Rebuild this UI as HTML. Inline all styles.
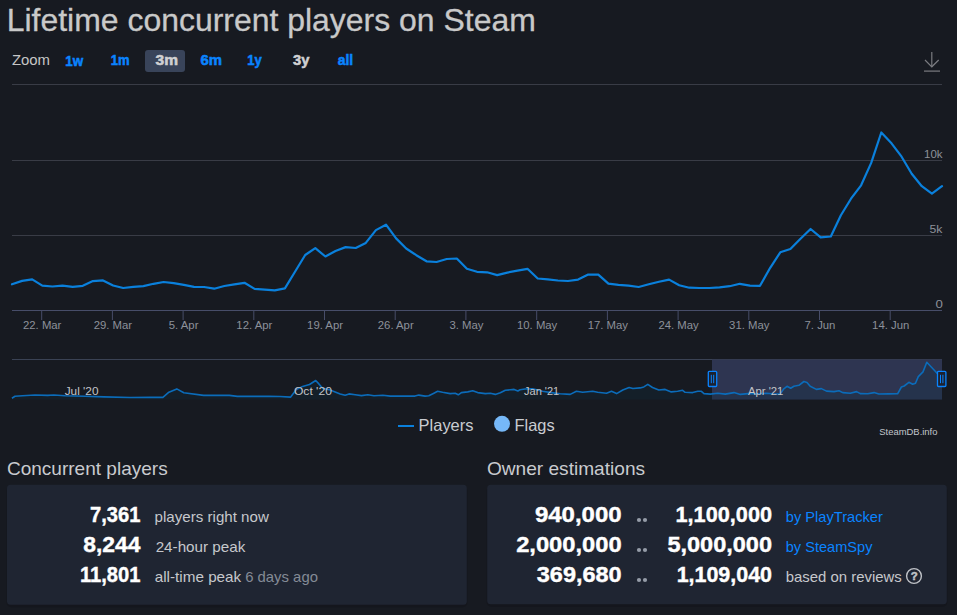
<!DOCTYPE html>
<html><head><meta charset="utf-8">
<style>
html,body{margin:0;padding:0;}
body{width:957px;height:615px;overflow:hidden;background:#171a21;position:relative;font-family:"Liberation Sans",sans-serif;}
svg{position:absolute;left:0;top:0;}
svg text{font-family:"Liberation Sans",sans-serif;white-space:pre;}
</style></head>
<body>
<svg width="957" height="615" viewBox="0 0 957 615">
  <!-- zoom selected -->
  <rect x="145" y="50" width="40" height="22" rx="3" fill="#39445a"/>
  <!-- download icon -->
  <g stroke="#7a7b80" stroke-width="1.2" fill="none">
    <line x1="931.8" y1="52" x2="931.8" y2="67"/>
    <polyline points="925,60 931.8,66.8 938.7,60"/>
    <line x1="924" y1="71.1" x2="940" y2="71.1"/>
  </g>
  <!-- grid -->
  <g stroke="#393c46" stroke-width="1">
    <line x1="12" y1="84.5" x2="942" y2="84.5"/>
    <line x1="12" y1="160.5" x2="942" y2="160.5"/>
    <line x1="12" y1="235.5" x2="942" y2="235.5"/>
  </g>
  <line x1="12" y1="310.5" x2="942" y2="310.5" stroke="#474d69" stroke-width="1"/>
  <line x1="41.7" y1="310" x2="41.7" y2="320" stroke="#474d69" stroke-width="1"/><text x="22.99" y="328.8" font-size="11" fill="#8d919a" textLength="38.41" lengthAdjust="spacingAndGlyphs">22. Mar</text><line x1="112.4" y1="310" x2="112.4" y2="320" stroke="#474d69" stroke-width="1"/><text x="93.70" y="328.8" font-size="11" fill="#8d919a" textLength="38.41" lengthAdjust="spacingAndGlyphs">29. Mar</text><line x1="183.1" y1="310" x2="183.1" y2="320" stroke="#474d69" stroke-width="1"/><text x="168.82" y="328.8" font-size="11" fill="#8d919a" textLength="29.60" lengthAdjust="spacingAndGlyphs">5. Apr</text><line x1="253.8" y1="310" x2="253.8" y2="320" stroke="#474d69" stroke-width="1"/><text x="236.37" y="328.8" font-size="11" fill="#8d919a" textLength="35.90" lengthAdjust="spacingAndGlyphs">12. Apr</text><line x1="324.5" y1="310" x2="324.5" y2="320" stroke="#474d69" stroke-width="1"/><text x="307.08" y="328.8" font-size="11" fill="#8d919a" textLength="35.90" lengthAdjust="spacingAndGlyphs">19. Apr</text><line x1="395.2" y1="310" x2="395.2" y2="320" stroke="#474d69" stroke-width="1"/><text x="377.79" y="328.8" font-size="11" fill="#8d919a" textLength="35.90" lengthAdjust="spacingAndGlyphs">26. Apr</text><line x1="465.9" y1="310" x2="465.9" y2="320" stroke="#474d69" stroke-width="1"/><text x="449.45" y="328.8" font-size="11" fill="#8d919a" textLength="34.00" lengthAdjust="spacingAndGlyphs">3. May</text><line x1="536.7" y1="310" x2="536.7" y2="320" stroke="#474d69" stroke-width="1"/><text x="517.01" y="328.8" font-size="11" fill="#8d919a" textLength="40.30" lengthAdjust="spacingAndGlyphs">10. May</text><line x1="607.4" y1="310" x2="607.4" y2="320" stroke="#474d69" stroke-width="1"/><text x="587.72" y="328.8" font-size="11" fill="#8d919a" textLength="40.30" lengthAdjust="spacingAndGlyphs">17. May</text><line x1="678.1" y1="310" x2="678.1" y2="320" stroke="#474d69" stroke-width="1"/><text x="658.42" y="328.8" font-size="11" fill="#8d919a" textLength="40.30" lengthAdjust="spacingAndGlyphs">24. May</text><line x1="748.8" y1="310" x2="748.8" y2="320" stroke="#474d69" stroke-width="1"/><text x="729.13" y="328.8" font-size="11" fill="#8d919a" textLength="40.30" lengthAdjust="spacingAndGlyphs">31. May</text><line x1="819.5" y1="310" x2="819.5" y2="320" stroke="#474d69" stroke-width="1"/><text x="804.56" y="328.8" font-size="11" fill="#8d919a" textLength="30.86" lengthAdjust="spacingAndGlyphs">7. Jun</text><line x1="890.2" y1="310" x2="890.2" y2="320" stroke="#474d69" stroke-width="1"/><text x="872.12" y="328.8" font-size="11" fill="#8d919a" textLength="37.17" lengthAdjust="spacingAndGlyphs">14. Jun</text>
  <path d="M12.0,284.3 L22.1,280.9 L32.2,279.4 L42.3,285.6 L52.4,286.5 L62.5,285.6 L72.7,286.8 L82.8,285.8 L92.9,281.1 L103.0,280.4 L113.1,285.5 L123.2,288.0 L133.3,286.8 L143.4,286.1 L153.5,283.8 L163.6,282.0 L173.7,283.2 L183.8,284.8 L194.0,286.9 L204.1,287.0 L214.2,288.7 L224.3,286.0 L234.4,284.3 L244.5,282.8 L254.6,288.9 L264.7,289.7 L274.8,290.4 L284.9,288.4 L295.0,271.8 L305.2,255.0 L315.3,248.1 L325.4,256.5 L335.5,251.0 L345.6,247.1 L355.7,248.0 L365.8,242.9 L375.9,230.1 L386.0,224.7 L396.1,238.4 L406.2,248.5 L416.3,255.2 L426.5,261.3 L436.6,262.0 L446.7,259.0 L456.8,258.5 L466.9,268.8 L477.0,271.8 L487.1,272.3 L497.2,275.1 L507.3,272.6 L517.4,270.6 L527.5,268.8 L537.7,278.5 L547.8,279.3 L557.9,280.5 L568.0,281.0 L578.1,279.6 L588.2,274.6 L598.3,274.6 L608.4,283.6 L618.5,284.8 L628.6,285.7 L638.7,287.0 L648.8,284.3 L659.0,281.8 L669.1,279.6 L679.2,285.2 L689.3,287.7 L699.4,288.0 L709.5,288.0 L719.6,287.3 L729.7,286.2 L739.8,283.8 L749.9,285.7 L760.0,285.8 L770.2,267.8 L780.3,252.3 L790.4,249.0 L800.5,238.7 L810.6,229.0 L820.7,237.4 L830.8,236.5 L840.9,215.3 L851.0,198.7 L861.1,185.3 L871.2,162.9 L881.3,132.5 L891.5,143.3 L901.6,156.7 L911.7,173.7 L921.8,186.2 L931.9,193.7 L942.0,186.2" fill="none" stroke="#0a80dc" stroke-width="2.2" stroke-linejoin="round" stroke-linecap="round"/>

  <!-- navigator -->
  <line x1="12" y1="359.5" x2="942" y2="359.5" stroke="#3a4254" stroke-width="1"/>
  <rect x="712" y="359.5" width="230" height="40" fill="#2e3551"/>
  <path d="M11.9,398.2 L15.0,396.3 L22.5,395.7 L35.0,395.0 L47.6,395.4 L53.9,395.0 L65.2,395.7 L85.2,396.3 L104.0,396.9 L130.0,397.5 L150.0,397.4 L162.9,397.4 L168.9,392.2 L176.8,388.9 L183.8,392.8 L203.6,395.4 L229.4,395.4 L237.4,396.4 L269.1,396.4 L280.0,396.5 L290.7,397.1 L296.3,389.6 L302.6,386.4 L309.5,384.5 L315.7,380.5 L318.9,383.9 L322.6,388.3 L328.9,389.6 L333.9,391.4 L340.2,393.9 L345.2,395.2 L349.0,393.9 L355.2,394.8 L361.5,395.6 L367.8,394.8 L374.0,395.8 L382.8,395.2 L390.3,396.1 L400.0,396.1 L407.5,396.1 L415.0,396.1 L418.8,395.1 L425.1,396.1 L428.8,395.7 L433.9,393.2 L437.6,391.3 L442.6,392.3 L450.2,393.6 L455.2,393.2 L458.3,394.8 L461.4,392.6 L467.7,391.9 L472.7,390.7 L477.7,392.6 L485.3,393.6 L490.3,393.2 L495.3,394.4 L500.3,392.8 L505.3,390.3 L510.3,389.8 L514.1,389.4 L517.9,391.0 L520.0,389.8 L525.0,389.0 L532.5,388.8 L542.6,391.3 L551.3,392.6 L560.1,393.8 L570.2,394.4 L576.4,391.3 L582.7,392.3 L592.7,391.3 L597.7,392.3 L606.5,393.2 L611.5,391.3 L616.6,393.6 L622.8,390.0 L629.1,387.5 L632.9,388.5 L640.0,387.9 L643.8,386.9 L647.8,384.4 L652.5,387.5 L658.8,390.0 L665.1,389.4 L671.3,391.9 L677.6,391.3 L682.6,390.3 L685.1,392.3 L692.7,392.6 L697.7,391.3 L701.4,391.3 L704.0,393.6 L710.2,394.1 L717.7,393.2 L725.3,394.1 L734.0,392.6 L740.3,394.4 L747.8,393.6 L760.0,393.8 L766.3,393.2 L772.5,393.8 L780.1,394.1 L783.8,388.8 L787.0,386.3 L790.7,388.2 L793.9,386.3 L798.9,385.3 L803.9,381.5 L807.0,382.5 L810.2,386.3 L816.4,389.4 L821.4,388.6 L826.5,391.1 L834.0,391.6 L839.0,390.7 L842.8,392.6 L850.3,393.2 L856.6,391.6 L860.3,393.6 L867.8,393.8 L874.1,392.6 L878.8,394.0 L888.2,393.9 L897.6,393.8 L901.4,387.0 L904.2,386.0 L908.9,382.3 L912.7,384.2 L915.5,383.2 L918.3,376.6 L923.0,371.9 L926.8,362.3 L931.5,367.2 L937.1,373.3 L942.0,376.0 L942,399.5 L12,399.5 Z" fill="#0e3040" fill-opacity="0.28" stroke="none"/>
  <path d="M11.9,398.2 L15.0,396.3 L22.5,395.7 L35.0,395.0 L47.6,395.4 L53.9,395.0 L65.2,395.7 L85.2,396.3 L104.0,396.9 L130.0,397.5 L150.0,397.4 L162.9,397.4 L168.9,392.2 L176.8,388.9 L183.8,392.8 L203.6,395.4 L229.4,395.4 L237.4,396.4 L269.1,396.4 L280.0,396.5 L290.7,397.1 L296.3,389.6 L302.6,386.4 L309.5,384.5 L315.7,380.5 L318.9,383.9 L322.6,388.3 L328.9,389.6 L333.9,391.4 L340.2,393.9 L345.2,395.2 L349.0,393.9 L355.2,394.8 L361.5,395.6 L367.8,394.8 L374.0,395.8 L382.8,395.2 L390.3,396.1 L400.0,396.1 L407.5,396.1 L415.0,396.1 L418.8,395.1 L425.1,396.1 L428.8,395.7 L433.9,393.2 L437.6,391.3 L442.6,392.3 L450.2,393.6 L455.2,393.2 L458.3,394.8 L461.4,392.6 L467.7,391.9 L472.7,390.7 L477.7,392.6 L485.3,393.6 L490.3,393.2 L495.3,394.4 L500.3,392.8 L505.3,390.3 L510.3,389.8 L514.1,389.4 L517.9,391.0 L520.0,389.8 L525.0,389.0 L532.5,388.8 L542.6,391.3 L551.3,392.6 L560.1,393.8 L570.2,394.4 L576.4,391.3 L582.7,392.3 L592.7,391.3 L597.7,392.3 L606.5,393.2 L611.5,391.3 L616.6,393.6 L622.8,390.0 L629.1,387.5 L632.9,388.5 L640.0,387.9 L643.8,386.9 L647.8,384.4 L652.5,387.5 L658.8,390.0 L665.1,389.4 L671.3,391.9 L677.6,391.3 L682.6,390.3 L685.1,392.3 L692.7,392.6 L697.7,391.3 L701.4,391.3 L704.0,393.6 L710.2,394.1 L717.7,393.2 L725.3,394.1 L734.0,392.6 L740.3,394.4 L747.8,393.6 L760.0,393.8 L766.3,393.2 L772.5,393.8 L780.1,394.1 L783.8,388.8 L787.0,386.3 L790.7,388.2 L793.9,386.3 L798.9,385.3 L803.9,381.5 L807.0,382.5 L810.2,386.3 L816.4,389.4 L821.4,388.6 L826.5,391.1 L834.0,391.6 L839.0,390.7 L842.8,392.6 L850.3,393.2 L856.6,391.6 L860.3,393.6 L867.8,393.8 L874.1,392.6 L878.8,394.0 L888.2,393.9 L897.6,393.8 L901.4,387.0 L904.2,386.0 L908.9,382.3 L912.7,384.2 L915.5,383.2 L918.3,376.6 L923.0,371.9 L926.8,362.3 L931.5,367.2 L937.1,373.3 L942.0,376.0" fill="none" stroke="#0b6cba" stroke-width="1.6" stroke-linejoin="round"/>
  <g stroke="#0a84ff" stroke-width="1.3" fill="#1c2230">
    <rect x="708.3" y="371.3" width="8.4" height="15.2" rx="1"/>
    <rect x="937.5" y="371.3" width="8.4" height="15.2" rx="1"/>
  </g>
  <g stroke="#0a84ff" stroke-width="1">
    <line x1="711.3" y1="374.8" x2="711.3" y2="383.2"/><line x1="713.7" y1="374.8" x2="713.7" y2="383.2"/>
    <line x1="940.5" y1="374.8" x2="940.5" y2="383.2"/><line x1="942.9" y1="374.8" x2="942.9" y2="383.2"/>
  </g>
  <!-- legend -->
  <line x1="398" y1="426" x2="414" y2="426" stroke="#0a80dc" stroke-width="2"/>
  <circle cx="502" cy="423.8" r="8" fill="#76b8f8"/>

  <!-- panels -->
  <rect x="6.5" y="486" width="461" height="121.5" rx="5" fill="#000" fill-opacity="0.12"/>
  <rect x="486.5" y="486" width="461" height="121" rx="5" fill="#000" fill-opacity="0.12"/>
  <rect x="7" y="484.8" width="459.8" height="120" rx="3.5" fill="#1f2532"/>
  <rect x="487.2" y="484.7" width="459.6" height="119.5" rx="3.5" fill="#1f2532"/>
  <g fill="#959ca8">
    <circle cx="639" cy="520" r="2.1"/><circle cx="645" cy="520" r="2.1"/>
    <circle cx="639" cy="550" r="2.1"/><circle cx="645" cy="550" r="2.1"/>
    <circle cx="639" cy="580" r="2.1"/><circle cx="645" cy="580" r="2.1"/>
  </g>
  <!-- help icon -->
  <circle cx="914" cy="576" r="7.4" fill="none" stroke="#bfc2c7" stroke-width="1.4"/>
  <text x="914.2" y="580.2" text-anchor="middle" font-size="11.5" font-weight="700" fill="#bfc2c7" stroke="#bfc2c7" stroke-width="0.5">?</text>
<text x="6.68" y="31.46" font-size="31.7" font-weight="400" fill="#c9c9c9" stroke="#c9c9c9" stroke-width="0.3" textLength="529.14" lengthAdjust="spacingAndGlyphs">Lifetime concurrent players on Steam</text>
<text x="11.90" y="65.42" font-size="14.8" font-weight="400" fill="#c6c6c6" textLength="38.12" lengthAdjust="spacingAndGlyphs">Zoom</text>
<text x="65.28" y="65.54" font-size="15" font-weight="700" fill="#0a84ff" stroke="#0a84ff" stroke-width="0.55" textLength="17.90" lengthAdjust="spacingAndGlyphs">1w</text>
<text x="110.70" y="65.32" font-size="15" font-weight="700" fill="#0a84ff" stroke="#0a84ff" stroke-width="0.55" textLength="18.80" lengthAdjust="spacingAndGlyphs">1m</text>
<text x="155.56" y="65.32" font-size="15" font-weight="700" fill="#d0d0d2" stroke="#d0d0d2" stroke-width="0.55" textLength="22.46" lengthAdjust="spacingAndGlyphs">3m</text>
<text x="200.56" y="65.32" font-size="15" font-weight="700" fill="#0a84ff" stroke="#0a84ff" stroke-width="0.55" textLength="21.56" lengthAdjust="spacingAndGlyphs">6m</text>
<text x="247.28" y="65.32" font-size="15" font-weight="700" fill="#0a84ff" stroke="#0a84ff" stroke-width="0.55" textLength="14.56" lengthAdjust="spacingAndGlyphs">1y</text>
<text x="292.94" y="65.32" font-size="15" font-weight="700" fill="#d0d0d2" stroke="#d0d0d2" stroke-width="0.55" textLength="16.38" lengthAdjust="spacingAndGlyphs">3y</text>
<text x="337.70" y="65.48" font-size="15" font-weight="700" fill="#0a84ff" stroke="#0a84ff" stroke-width="0.55" textLength="15.46" lengthAdjust="spacingAndGlyphs">all</text>
<text x="924.00" y="157.82" font-size="11.5" font-weight="400" fill="#8d9199" textLength="18.50" lengthAdjust="spacingAndGlyphs">10k</text>
<text x="929.42" y="233.46" font-size="11.5" font-weight="400" fill="#8d9199" textLength="12.94" lengthAdjust="spacingAndGlyphs">5k</text>
<text x="935.46" y="307.84" font-size="11.5" font-weight="400" fill="#8d9199" textLength="7.38" lengthAdjust="spacingAndGlyphs">0</text>
<text x="64.68" y="395.18" font-size="11" font-weight="400" fill="#c2c4c8" textLength="33.80" lengthAdjust="spacingAndGlyphs">Jul &#39;20</text>
<text x="293.90" y="395.10" font-size="11" font-weight="400" fill="#c2c4c8" textLength="38.04" lengthAdjust="spacingAndGlyphs">Oct &#39;20</text>
<text x="524.02" y="395.20" font-size="11" font-weight="400" fill="#c2c4c8" textLength="35.24" lengthAdjust="spacingAndGlyphs">Jan &#39;21</text>
<text x="747.90" y="394.60" font-size="11" font-weight="400" fill="#c2c4c8" textLength="35.48" lengthAdjust="spacingAndGlyphs">Apr &#39;21</text>
<text x="418.62" y="431.02" font-size="16.5" font-weight="400" fill="#c9ccd1" textLength="54.88" lengthAdjust="spacingAndGlyphs">Players</text>
<text x="514.48" y="431.02" font-size="16.5" font-weight="400" fill="#c9ccd1" textLength="40.12" lengthAdjust="spacingAndGlyphs">Flags</text>
<text x="879.28" y="434.80" font-size="9.7" font-weight="400" fill="#c2c6cc" textLength="58.22" lengthAdjust="spacingAndGlyphs">SteamDB.info</text>
<text x="6.90" y="475.32" font-size="19" font-weight="400" fill="#c9cbcf" textLength="160.84" lengthAdjust="spacingAndGlyphs">Concurrent players</text>
<text x="486.90" y="475.40" font-size="19" font-weight="400" fill="#c9cbcf" textLength="158.22" lengthAdjust="spacingAndGlyphs">Owner estimations</text>
<text x="90.04" y="521.60" font-size="21.5" font-weight="700" fill="#ffffff" stroke="#ffffff" stroke-width="0.4" textLength="50.42" lengthAdjust="spacingAndGlyphs">7,361</text>
<text x="83.28" y="551.60" font-size="21.5" font-weight="700" fill="#ffffff" stroke="#ffffff" stroke-width="0.4" textLength="57.18" lengthAdjust="spacingAndGlyphs">8,244</text>
<text x="80.00" y="581.60" font-size="21.5" font-weight="700" fill="#ffffff" stroke="#ffffff" stroke-width="0.4" textLength="60.46" lengthAdjust="spacingAndGlyphs">11,801</text>
<text x="154.62" y="522.00" font-size="15" font-weight="400" fill="#c6c8cc" textLength="114.22" lengthAdjust="spacingAndGlyphs">players right now</text>
<text x="155.66" y="552.00" font-size="15" font-weight="400" fill="#c6c8cc" textLength="89.70" lengthAdjust="spacingAndGlyphs">24-hour peak</text>
<text x="154.76" y="582.00" font-size="15" font-weight="400" fill="#c6c8cc" textLength="86.46" lengthAdjust="spacingAndGlyphs">all-time peak</text>
<text x="245.14" y="582.00" font-size="15" font-weight="400" fill="#848b96" textLength="72.84" lengthAdjust="spacingAndGlyphs">6 days ago</text>
<text x="534.90" y="521.60" font-size="21.5" font-weight="700" fill="#ffffff" stroke="#ffffff" stroke-width="0.4" textLength="86.74" lengthAdjust="spacingAndGlyphs">940,000</text>
<text x="516.18" y="551.60" font-size="21.5" font-weight="700" fill="#ffffff" stroke="#ffffff" stroke-width="0.4" textLength="105.46" lengthAdjust="spacingAndGlyphs">2,000,000</text>
<text x="536.80" y="581.60" font-size="21.5" font-weight="700" fill="#ffffff" stroke="#ffffff" stroke-width="0.4" textLength="84.84" lengthAdjust="spacingAndGlyphs">369,680</text>
<text x="675.52" y="521.60" font-size="21.5" font-weight="700" fill="#ffffff" stroke="#ffffff" stroke-width="0.4" textLength="96.50" lengthAdjust="spacingAndGlyphs">1,100,000</text>
<text x="667.42" y="551.60" font-size="21.5" font-weight="700" fill="#ffffff" stroke="#ffffff" stroke-width="0.4" textLength="104.60" lengthAdjust="spacingAndGlyphs">5,000,000</text>
<text x="676.66" y="581.60" font-size="21.5" font-weight="700" fill="#ffffff" stroke="#ffffff" stroke-width="0.4" textLength="95.36" lengthAdjust="spacingAndGlyphs">1,109,040</text>
<text x="785.76" y="522.00" font-size="15" font-weight="400" fill="#0a84ff" textLength="97.08" lengthAdjust="spacingAndGlyphs">by PlayTracker</text>
<text x="785.76" y="552.00" font-size="15" font-weight="400" fill="#0a84ff" textLength="86.70" lengthAdjust="spacingAndGlyphs">by SteamSpy</text>
<text x="785.76" y="582.00" font-size="15" font-weight="400" fill="#c6c8cc" textLength="116.08" lengthAdjust="spacingAndGlyphs">based on reviews</text>

</svg>
</body></html>
